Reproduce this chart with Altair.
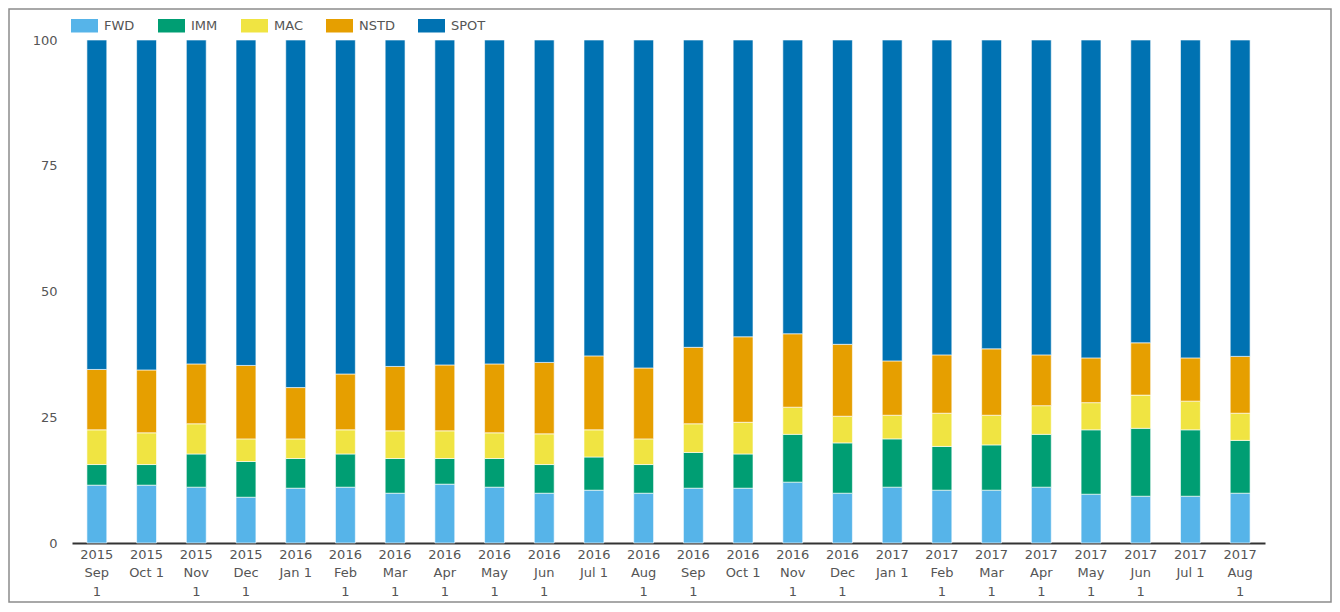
import altair as alt
import pandas as pd

categories = [
    "2015|Sep|1", "2015|Oct 1", "2015|Nov|1", "2015|Dec|1",
    "2016|Jan 1", "2016|Feb|1", "2016|Mar|1", "2016|Apr|1",
    "2016|May|1", "2016|Jun|1", "2016|Jul 1", "2016|Aug|1",
    "2016|Sep|1", "2016|Oct 1", "2016|Nov|1", "2016|Dec|1",
    "2017|Jan 1", "2017|Feb|1", "2017|Mar|1", "2017|Apr|1",
    "2017|May|1", "2017|Jun|1", "2017|Jul 1", "2017|Aug|1",
]

series_names = ["FWD", "IMM", "MAC", "NSTD", "SPOT"]
series_colors = ["#56B4E9", "#009E73", "#F0E442", "#E69F00", "#0072B2"]

fwd = [11.5, 11.5, 11.1, 9.1, 10.9, 11.1, 9.9, 11.7, 11.1, 9.9, 10.5, 9.9,
       10.9, 10.9, 12.1, 9.9, 11.1, 10.5, 10.5, 11.1, 9.7, 9.3, 9.3, 9.9]
imm = [4.1, 4.1, 6.6, 7.1, 5.9, 6.6, 6.9, 5.1, 5.7, 5.7, 6.6, 5.7,
       7.1, 6.8, 9.5, 10.0, 9.6, 8.7, 9.0, 10.5, 12.8, 13.5, 13.2, 10.5]
mac = [6.9, 6.3, 6.0, 4.5, 3.9, 4.8, 5.5, 5.5, 5.1, 6.1, 5.4, 5.1,
       5.7, 6.3, 5.4, 5.3, 4.7, 6.6, 5.9, 5.7, 5.4, 6.6, 5.7, 5.4]
nstd = [12.0, 12.5, 11.9, 14.6, 10.2, 11.1, 12.8, 13.1, 13.7, 14.2, 14.7, 14.1,
        15.2, 17.0, 14.6, 14.3, 10.8, 11.6, 13.2, 10.1, 8.9, 10.4, 8.6, 11.3]
spot = [65.5, 65.6, 64.4, 64.7, 69.1, 66.4, 64.9, 64.6, 64.4, 64.1, 62.8, 65.2,
        61.1, 59.0, 58.4, 60.5, 63.8, 62.6, 61.4, 62.6, 63.2, 60.2, 63.2, 62.9]

y_ticks = [0, 25, 50, 75, 100]

series_values = [fwd, imm, mac, nstd, spot]
rows = []
for si, (name, vals) in enumerate(zip(series_names, series_values)):
    for cat, v in zip(categories, vals):
        rows.append({"date": cat, "series": name, "value": v, "order": si})
df = pd.DataFrame(rows)

FONT = "DejaVu Sans"
GREY = "#555555"

bars = alt.Chart(df).mark_bar(
    stroke="white", strokeWidth=1, strokeOpacity=0.6
).encode(
    x=alt.X(
        "date:N",
        sort=categories,
        scale=alt.Scale(paddingInner=0.6, paddingOuter=0.3),
        axis=alt.Axis(
            title=None,
            labelExpr="split(datum.label, '|')",
            labelAngle=0,
            labelLineHeight=18.5,
            labelPadding=5,
            labelFont=FONT,
            labelFontSize=13,
            labelColor=GREY,
            ticks=False,
            tickSize=0,
            domainColor="#333333",
            domainWidth=2,
            grid=False,
        ),
    ),
    y=alt.Y(
        "value:Q",
        stack="zero",
        scale=alt.Scale(domain=[0, 100], nice=False),
        axis=alt.Axis(
            title=None,
            values=y_ticks,
            ticks=False,
            tickSize=0,
            domain=False,
            grid=False,
            labelPadding=15,
            labelFont=FONT,
            labelFontSize=13,
            labelColor=GREY,
        ),
    ),
    color=alt.Color(
        "series:N",
        scale=alt.Scale(domain=series_names, range=series_colors),
        legend=alt.Legend(
            title=None,
            orient="none",
            direction="horizontal",
            legendX=-1,
            legendY=-28,
            padding=0,
            symbolType="M-1,-0.5H1V0.5H-1Z",
            symbolSize=729,
            symbolStrokeWidth=0,
            symbolOpacity=1,
            labelOffset=6,
            columnPadding=23,
            labelFont=FONT,
            labelFontSize=13,
            labelColor=GREY,
        ),
    ),
    order=alt.Order("order:Q", sort="ascending"),
)

border = alt.Chart(alt.Data(values=[{}])).mark_rect(
    fillOpacity=0, stroke="#8c8c8c", strokeWidth=1.5
).encode(
    x=alt.value(-63),
    x2=alt.value(1259),
    y=alt.value(-31),
    y2=alt.value(562),
)

chart = alt.layer(bars, border).properties(
    width=1193,
    height=503,
    padding={"left": 64, "top": 32, "right": 67, "bottom": 60},
    autosize=alt.AutoSizeParams(type="none"),
).configure_view(stroke=None)

chart.save("out.html", embed_options={"renderer": "svg", "actions": False})
